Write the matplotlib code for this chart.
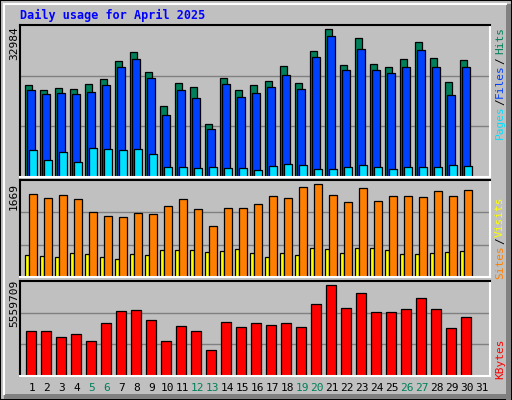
import matplotlib
matplotlib.use("Agg")
import matplotlib.pyplot as plt
from matplotlib.patches import Rectangle
import numpy as np

days = list(range(1, 32))
weekend_days = [5, 6, 12, 13, 19, 20, 26, 27]
hits = [20440, 19325, 19771, 19548, 20663, 21777, 25789, 27795, 23338, 15759,
        20886, 19994, 11747, 22000, 19325, 20440, 21332, 24675, 20886, 28019,
        32984, 24898, 30916, 25121, 24452, 26236, 30025, 26458, 21109, 26013]
files = [19325, 18434, 18657, 18434, 18880, 20440, 24452, 26236, 22000, 13753,
         19325, 17542, 10632, 20663, 17765, 18657, 19994, 22669, 19548, 26681,
         31362, 23783, 28464, 23783, 23115, 24452, 28241, 24452, 18211, 24452]
pages = [5951, 3722, 5506, 3277, 6397, 6174, 5951, 6174, 5060, 2162,
         2162, 1939, 2162, 1939, 1939, 1493, 2385, 2831, 2608, 1716,
         1716, 2162, 2608, 2162, 1716, 2162, 2162, 2162, 2608, 2385]
sites = [1487, 1415, 1469, 1397, 1162, 1090, 1072, 1144, 1126, 1270,
         1397, 1216, 927, 1234, 1234, 1306, 1451, 1415, 1613, 1669,
         1469, 1342, 1595, 1361, 1451, 1451, 1433, 1541, 1451, 1559]
visits = [403, 385, 367, 439, 421, 367, 331, 421, 403, 494,
          494, 494, 458, 476, 512, 439, 367, 439, 403, 530,
          512, 439, 530, 530, 494, 421, 421, 439, 458, 476]
kbytes = [2759576, 2759576, 2394338, 2576957, 2150846, 3246560, 3977036, 4037909, 3429179, 2150846,
          3063941, 2759576, 1602989, 3307433, 3003068, 3246560, 3124814, 3246560, 3003068, 4403147,
          5559709, 4159655, 5072750, 3916163, 3916163, 4098782, 4768385, 4098782, 2942195, 3611798]

BG = "#C0C0C0"
C_HITS, C_FILES, C_PAGES = "#00805A", "#0040FF", "#00E0FF"
C_SITES, C_VISITS, C_KB = "#FF8000", "#FFFF00", "#FF0000"
GREEN_TXT = "#00805A"
MONO = "DejaVu Sans Mono"

W, H = 512, 400
fig = plt.figure(figsize=(5.12, 4.0), dpi=100, facecolor=BG)

# frame decorations
fig.patches.append(Rectangle((0, 0), 1, 1, transform=fig.transFigure, fill=False, ec="black", lw=1.5))
fig.add_artist(plt.Line2D([4/W, 4/W], [1-4/H, 6/H], color="white", lw=1.5, transform=fig.transFigure))
fig.add_artist(plt.Line2D([4/W, 1-6/W], [1-4/H, 1-4/H], color="white", lw=1.5, transform=fig.transFigure))
fig.patches.append(Rectangle((1-6/W, 0), 5/W, 1-4/H, transform=fig.transFigure, color="#808080", lw=0))
fig.patches.append(Rectangle((4/W, 1/H), 1-5/W, 5/H, transform=fig.transFigure, color="#808080", lw=0))

def mkax(t, b, l=20, r=490):
    ax = fig.add_axes([l/W, 1-b/H, (r-l)/W, (b-t)/H])
    ax.set_facecolor(BG)
    ax.set_xlim(0, (r-l)/15)
    ax.set_xticks([]); ax.set_yticks([])
    ax.spines["top"].set_color("black"); ax.spines["left"].set_color("black")
    ax.spines["bottom"].set_color("white"); ax.spines["right"].set_color("white")
    for s in ax.spines.values():
        s.set_linewidth(1.5)
    return ax

x = np.array(days[:30]) - 1.0
px = 1/15
ekw = dict(align="edge", edgecolor="black", linewidth=0.9)

ax1 = mkax(25, 177)
top1 = max(hits) * 152 / 148
ax1.set_ylim(0, top1)
for f in (1/3, 2/3):
    ax1.axhline(top1*f, color="#808080", lw=1, zorder=0)
ax1.bar(x + 5*px, hits, width=7.3*px, color=C_HITS, **ekw)
ax1.bar(x + 7.3*px, files, width=7.3*px, color=C_FILES, **ekw)
ax1.bar(x + 9.3*px, pages, width=7.3*px, color=C_PAGES, **ekw)

ax2 = mkax(180, 277)
top2 = max(sites) * 96.7 / 92.4
ax2.set_ylim(0, top2)
for f in (1/3, 2/3):
    ax2.axhline(top2*f, color="#808080", lw=1, zorder=0)
ax2.bar(x + 5.3*px, visits, width=4*px, color=C_VISITS, **ekw)
ax2.bar(x + 9.3*px, sites, width=7.3*px, color=C_SITES, **ekw)

ax3 = mkax(281, 376)
top3 = max(kbytes) * 95 / 91.3
ax3.set_ylim(0, top3)
for f in (1/3, 2/3):
    ax3.axhline(top3*f, color="#808080", lw=1, zorder=0)
ax3.bar(x + 6.3*px, kbytes, width=10*px, color=C_KB, **ekw)

def ftext(xp, yp, s, **kw):
    fig.text(xp/W, 1-yp/H, s, family=MONO, **kw)

ftext(20, 15, "Daily usage for April 2025", color="#0000FF", fontsize=8.5,
      weight="bold", ha="left", va="center")

ftext(14, 43, f"{max(hits)}", rotation=90, ha="center", va="center", fontsize=8)
ftext(14, 196, f"{max(sites)}", rotation=90, ha="center", va="center", fontsize=8)
ftext(14, 303, f"{max(kbytes)}", rotation=90, ha="center", va="center", fontsize=8)

rkw = dict(rotation=90, ha="center", va="center", fontsize=8)
ftext(500, 122, "Pages", color=C_PAGES, **rkw)
ftext(500, 102, "/", color="black", **rkw)
ftext(500, 81, "Files", color=C_FILES, **rkw)
ftext(500, 61, "/", color="black", **rkw)
ftext(500, 41, "Hits", color=C_HITS, **rkw)
ftext(500, 262, "Sites", color=C_SITES, **rkw)
ftext(500, 241, "/", color="black", **rkw)
ftext(500, 217, "Visits", color=C_VISITS, **rkw)
ftext(500, 359, "KBytes", color=C_KB, **rkw)

for d in days:
    ftext(32 + (d-1)*15, 388, str(d), ha="center", va="center", fontsize=8,
          color=GREEN_TXT if d in weekend_days else "black")

fig.savefig("out.png", dpi=100, facecolor=BG)
